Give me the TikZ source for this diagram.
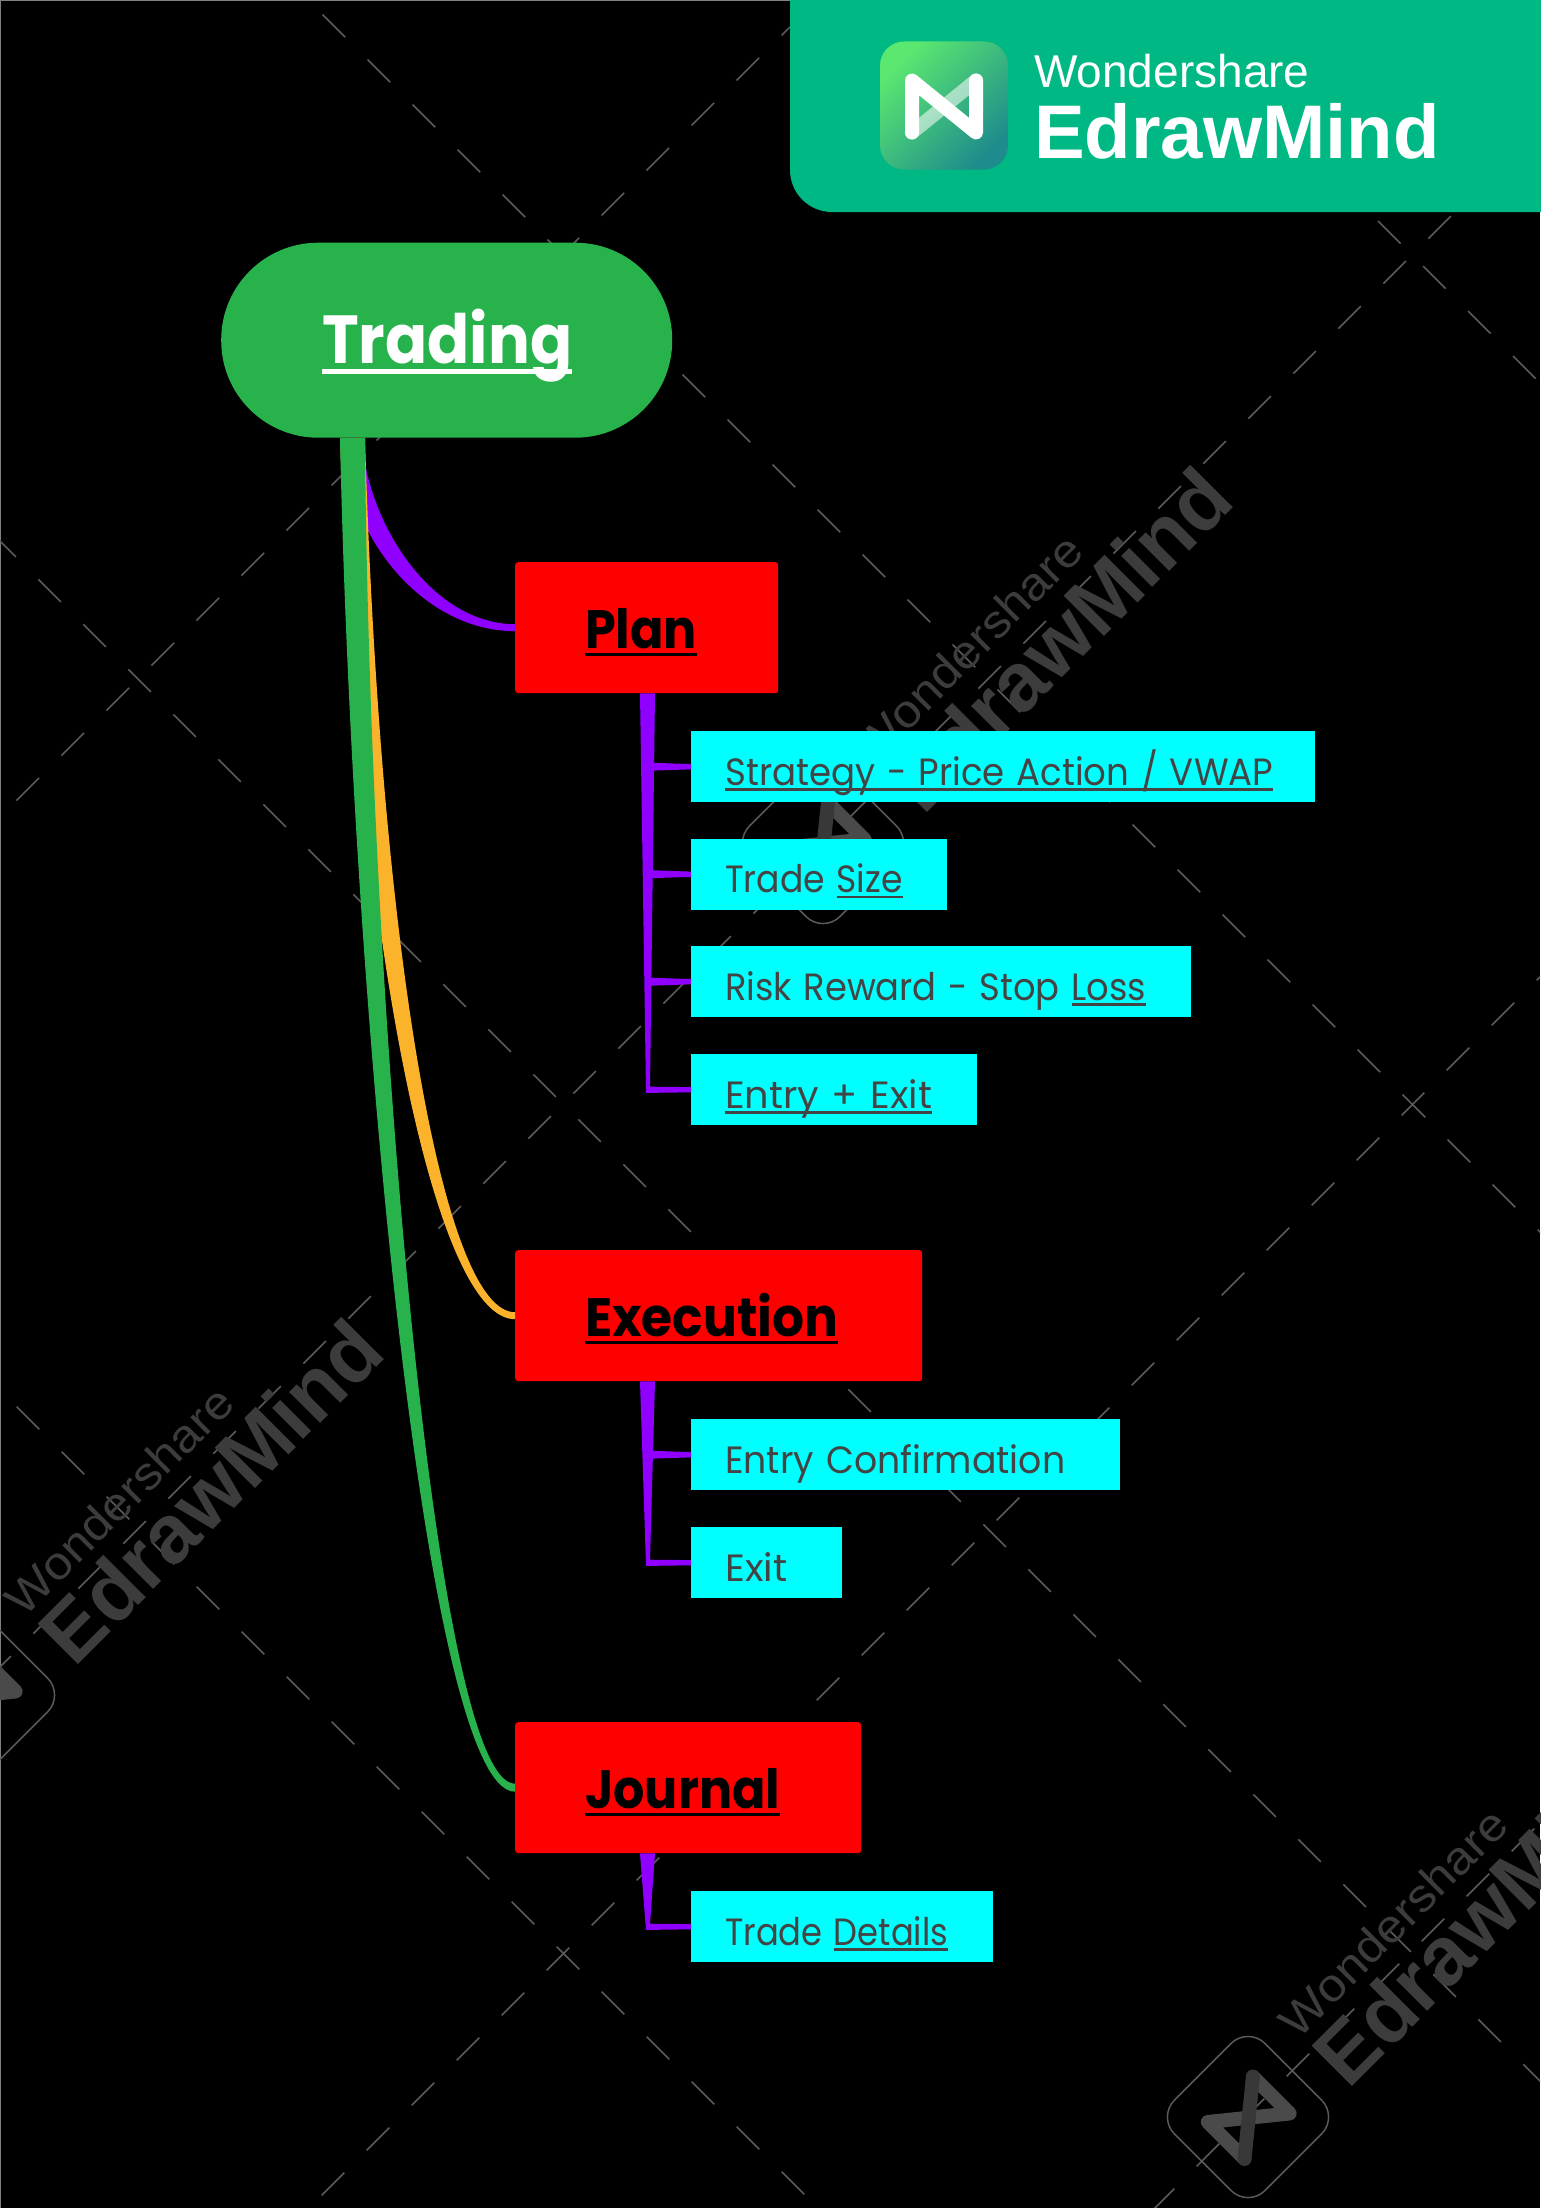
\documentclass[tikz,border=0pt]{standalone}
\usepackage{fontspec}
\usepackage{tikz, xcolor}
\usetikzlibrary{shapes,arrows}
\setmainfont{Poppins}
\newfontfamily\logothin{Liberation Sans}
\newfontfamily\markthin[FakeStretch=1.09]{Liberation Sans}
\newfontfamily\logobold{Liberation Sans}

\definecolor{rootgreen}{HTML}{28B24C}
\definecolor{boxcyan}{HTML}{00FFFF}
\definecolor{boxred}{HTML}{FF0000}
\definecolor{branchpurple}{HTML}{8F00FF}
\definecolor{branchorange}{HTML}{FBB32B}
\definecolor{logogreen}{HTML}{00B884}
\definecolor{icontop}{HTML}{5BE870}
\definecolor{iconend}{HTML}{1E8C8C}
\definecolor{subtext}{HTML}{444444}
\definecolor{wmline}{HTML}{5A5A5A}
\definecolor{wmtext}{HTML}{3C3C3C}
\definecolor{wmglyph}{HTML}{4A4A4A}
\definecolor{wmcross}{HTML}{383838}

% underlined text, rule set in em
\newcommand{\underl}[1]{\setbox0\hbox{#1}\rlap{\rule[-.15em]{\wd0}{.07em}}\box0}
% text fitted to a width in px
\newcommand{\fitw}[2]{\resizebox{#1pt}{\height}{#2}}
% watermark: x, y, name
\newcommand{\wmark}[3]{
\begin{scope}[shift={(#1,#2)}, rotate=45]
\draw[draw=wmline, line width=1.5pt, rounded corners=24pt] (-64,-64) rectangle (64,64);
\draw[draw=wmglyph, line width=14pt, line cap=round, line join=round] (-32,27) -- (-32,-25) -- (32,27) -- (32,-25);
\draw[draw=wmcross, line width=14pt, line cap=round] (32,-25) -- (-32,27);
\node[wmlabel, font=\markthin\fontsize{46}{46}\selectfont] (#3a) at (90,-18.5) {Wondershare};
\node[wmlabel, font=\logobold\bfseries\fontsize{83}{83}\selectfont] (#3b) at (90,52.5) {EdrawMind};
\end{scope}}
% trunk from parent box to last child box
\newcommand{\trunk}[2]{
\fill[drawstyle] ([shift={(125,0)}]#1.south west) -- ([shift={(140,0)}]#1.south west) -- ([shift={(-41,-3)}]#2.west) -- ([shift={(0,-2.6)}]#2.west) -- ([shift={(0,2.6)}]#2.west) -- ([shift={(-45,3.2)}]#2.west) -- cycle;}
% side branch from trunk to child box
\newcommand{\twig}[1]{
\fill[drawstyle] ([shift={(0,-2.6)}]#1.west) -- ([shift={(-40,-4)}]#1.west) -- ([shift={(-40,4)}]#1.west) -- ([shift={(0,2.6)}]#1.west) -- cycle;}

\begin{document}
\begin{tikzpicture}[x=1pt, y=-1pt]
\tikzstyle{vertexroot}=[rectangle, fill=rootgreen, text=white, rounded corners=97pt, inner sep=0pt, anchor=north west, align=left, text height=121pt, text depth=74pt, font=\bfseries\fontsize{68}{68}\selectfont]
\tikzstyle{vertexmain}=[rectangle, fill=boxred, text=black, rounded corners=3pt, inner sep=0pt, anchor=north west, align=left, text height=86pt, text depth=45pt, font=\bfseries\fontsize{54}{54}\selectfont]
\tikzstyle{vertexsub}=[rectangle, fill=boxcyan, text=subtext, inner sep=0pt, anchor=north west, align=left, text height=54pt, text depth=17pt, font=\fontsize{38}{38}\selectfont]
\tikzstyle{wmlabel}=[text=wmtext, inner sep=0pt, anchor=base west, transform shape]
\tikzstyle{logolabel}=[text=white, inner sep=0pt, anchor=base west]
\tikzstyle{logoicon}=[rectangle, rounded corners=24pt, minimum size=128pt, inner sep=0pt, top color=icontop, bottom color=iconend, shading angle=45]
\tikzstyle{drawstyle}=[fill=branchpurple]

\useasboundingbox (0,0) rectangle (1540,2208);
\fill[black] (0,0) rectangle (1540,2208);
\draw[draw=gray, line width=2pt] (0,2208) -- (0,0) -- (1540,0);

\begin{scope}
\clip (0,0) rectangle (1540,2208);
\foreach \xa/\ya/\xb/\yb in {-6.7/534.3/1700/2241, -28.3/1361.7/900/2290, 277.6/-30.4/1700/1392, 1153/-4/1600/443,
  -28.5/845.5/900/-83, -11.7/1678.7/1600/67, 276.7/2240.3/1600/917, 1151.7/2211.3/1600/1763}
  \draw[draw=wmline, line width=1.5pt, dash pattern=on 32pt off 31.64pt] (\xa,\ya) -- (\xb,\yb);
\wmark{823}{843}{G9x0}
\wmark{-26}{1695}{G9x1}
\wmark{1248}{2117}{G9x2}
\end{scope}

% logo panel
\fill[logogreen] (1545,-5) -- (790,-5) [rounded corners=42pt] -- (790,212) [sharp corners] -- (1545,212) -- cycle;
\node[logoicon] (G8x0) at (944,105.5) {};
\draw[draw=white, opacity=.55, line width=14pt, line cap=round] (976,80.5) -- (912,132.5);
\draw[draw=white, line width=14pt, line cap=round, line join=round] (912,132.5) -- (912,80.5) -- (976,132.5) -- (976,80.5);
\node[logolabel, font=\logothin\fontsize{46}{46}\selectfont] (G8x1) at (1034,87) {Wondershare};
\node[logolabel, font=\logobold\bfseries\fontsize{76}{76}\selectfont] (G8x2) at (1034,158) {EdrawMind};

\node[vertexroot, text width=451pt] (G0x0) at (221,242.5) {\hspace*{101pt}\fitw{250}{\underl{Trading}}};
\node[vertexmain, text width=263pt] (G1x0) at (515,562) {\hspace*{70pt}\fitw{112}{\underl{Plan}}};
\node[vertexmain, text width=407pt] (G1x1) at (515,1250) {\hspace*{70pt}\fitw{253}{\underl{Execution}}};
\node[vertexmain, text width=346pt] (G1x2) at (515,1722) {\hspace*{70pt}\fitw{195}{\underl{Journal}}};

\node[vertexsub, text width=624pt] (G2x0) at (691,731) {\hspace*{34pt}\fitw{548}{\underl{Strategy - Price Action / VWAP}}};
\node[vertexsub, text width=256pt] (G2x1) at (691,838.5) {\hspace*{34pt}\fitw{177.5}{Trade \underl{Size}}};
\node[vertexsub, text width=500pt] (G2x2) at (691,946) {\hspace*{34pt}\fitw{421}{Risk Reward - Stop \underl{Loss}}};
\node[vertexsub, text width=286pt] (G2x3) at (691,1054) {\hspace*{34pt}\fitw{207}{\underl{Entry + Exit}}};
\node[vertexsub, text width=429pt] (G2x4) at (691,1419) {\hspace*{34pt}\fitw{340}{Entry Confirmation}};
\node[vertexsub, text width=151pt] (G2x5) at (691,1527) {\hspace*{34pt}\fitw{62}{Exit}};
\node[vertexsub, text width=302pt] (G2x6) at (691,1891) {\hspace*{34pt}\fitw{223}{Trade \underl{Details}}};

\fill[drawstyle] ([shift={(122,0)}]G0x0.south west) .. controls (347,540) and (425,631) .. ([shift={(0,3.5)}]G1x0.west) -- ([shift={(0,-3.5)}]G1x0.west) .. controls (430,624) and (366,520) .. ([shift={(141,0)}]G0x0.south west) -- cycle;
\fill[fill=branchorange] ([shift={(119,0)}]G0x0.south west) .. controls (358,950) and (435,1319.5) .. ([shift={(0,3.5)}]G1x1.west) -- ([shift={(0,-3.5)}]G1x1.west) .. controls (443,1312.5) and (380,950) .. ([shift={(144,0)}]G0x0.south west) -- cycle;
\fill[fill=rootgreen] ([shift={(119,0)}]G0x0.south west) .. controls (352,1000) and (425,1792) .. ([shift={(0,4)}]G1x2.west) -- ([shift={(0,-4)}]G1x2.west) .. controls (435,1784) and (369,1000) .. ([shift={(144,0)}]G0x0.south west) -- cycle;

\trunk{G1x0}{G2x3}
\twig{G2x0}
\twig{G2x1}
\twig{G2x2}
\trunk{G1x1}{G2x5}
\twig{G2x4}
\trunk{G1x2}{G2x6}
\end{tikzpicture}
\end{document}
